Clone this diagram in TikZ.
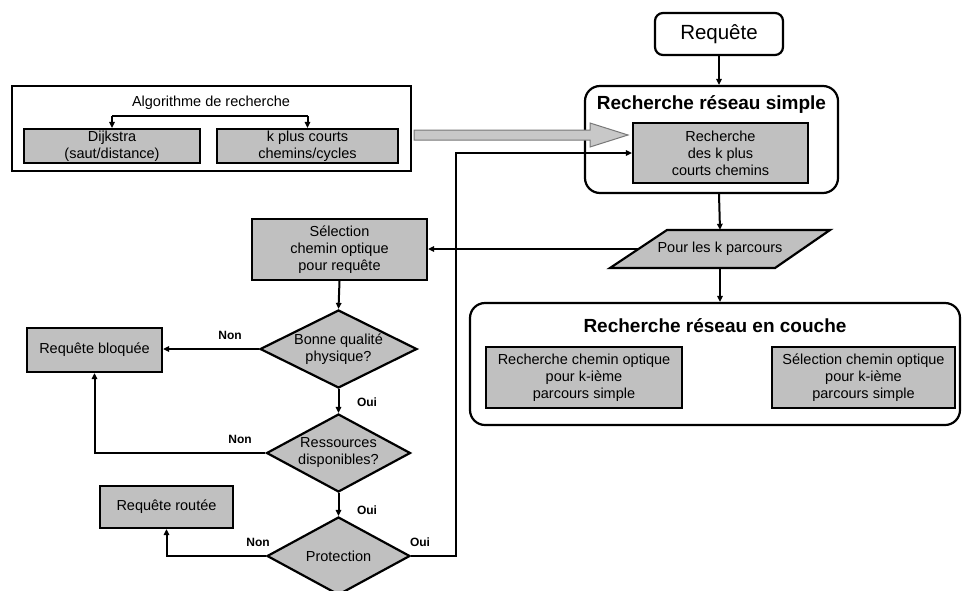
\documentclass[tikz,border=0pt]{standalone}
\usepackage{fontspec}
\setmainfont{Liberation Sans}
\usetikzlibrary{shapes.geometric,arrows.meta,calc}
\definecolor{boxgray}{RGB}{192,192,192}
\definecolor{arrowgray}{RGB}{200,200,200}
\definecolor{arrowedge}{RGB}{120,120,120}

\begin{document}
\begin{tikzpicture}[x=1pt,y=-1pt,
  txt/.style={font=\fontsize{14.5}{17}\selectfont, align=center},
  graybox/.style={txt, draw, line width=2.2pt, fill=boxgray, inner sep=0pt},
  frame/.style={draw, line width=2.2pt, inner sep=0pt},
  roundframe/.style={frame, rounded corners=15pt},
  decision/.style={txt, diamond, draw, line width=2.2pt, fill=boxgray, inner sep=0pt, aspect=2},
  title/.style={font=\bfseries\fontsize{19}{22}\selectfont},
  answer/.style={font=\bfseries\fontsize{12}{14}\selectfont},
  arr/.style={line width=2pt, -{Triangle[length=6pt,width=5.5pt]}},
  link/.style={line width=2pt},
  bigarrow/.style={fill=arrowgray, draw=arrowedge, line width=1pt, line join=miter},
]
\useasboundingbox (0,0) rectangle (962,590);

% --- search algorithms block ---
\node[frame, minimum width=399pt, minimum height=85pt] (algbox) at (211.5,128.5) {};
\node[txt] (algtitle) at (211,103) {Algorithme de recherche};
\node[graybox, minimum width=176pt, minimum height=34pt] (dij) at (112,146)
  {Dijkstra\\(saut/distance)};
\node[graybox, minimum width=181pt, minimum height=34pt] (kpc) at (307.5,146)
  {k plus courts\\chemins/cycles};
\coordinate (brl) at (112,116);
\coordinate (brr) at (307.5,116);
\draw[link] (brl) -- (brr);
\draw[arr] (brl) -- (dij.north);
\draw[arr] (brr) -- (kpc.north);

% --- request and simple network search ---
\node[txt, draw, line width=2.2pt, rounded corners=8pt, minimum width=128pt, minimum height=42pt,
  font=\fontsize{20.5}{24}\selectfont] (req) at (719,34) {Requête};
\node[roundframe, minimum width=253pt, minimum height=107pt] (simple) at (711.5,139.5) {};
\node[title] (simpletitle) at (711.5,104) {Recherche réseau simple};
\node[graybox, minimum width=175pt, minimum height=60pt] (kpath) at (720.5,153)
  {Recherche\\des k plus\\courts chemins};
\draw[arr] (req.south) -- (req.south |- simple.north);

% wide gray arrow feeding the algorithms into the search
\coordinate (ga) at (414,135);
\coordinate (gb) at (628,135);
\draw[bigarrow] ($(ga)+(0,-5)$) -- ($(gb)+(-38,-5)$) -- ($(gb)+(-38,-12)$) -- (gb)
  -- ($(gb)+(-38,12)$) -- ($(gb)+(-38,5)$) -- ($(ga)+(0,5)$) -- cycle;

% --- loop over the k paths ---
\draw[fill=boxgray, line width=2.2pt, line join=miter] (667,230) -- (830,230) -- (775,268) -- (610,268) -- cycle;
\node[txt, minimum width=100pt, minimum height=38pt, inner sep=0pt] (pk) at (720,249) {Pour les k parcours};
\coordinate (pkw) at (638.5,249);
\draw[arr] (req.south |- simple.south) -- (pk.north);

% --- layered network search ---
\node[roundframe, minimum width=490pt, minimum height=122pt] (layer) at (715,364) {};
\node[title] (layertitle) at (715,326) {Recherche réseau en couche};
\node[graybox, minimum width=196pt, minimum height=61pt] (rlk) at (584,377.5)
  {Recherche chemin optique\\pour k-ième\\parcours simple};
\node[graybox, minimum width=183pt, minimum height=61pt] (slk) at (863.5,377.5)
  {Sélection chemin optique\\pour k-ième\\parcours simple};
\draw[arr] (pk.south) -- (pk.south |- layer.north);

% --- decision chain ---
\node[graybox, minimum width=175pt, minimum height=61pt] (sel) at (339.5,249.5)
  {Sélection\\chemin optique\\pour requête};
\draw[arr] (pkw) -- (sel.east |- pkw);

\node[decision, minimum width=157pt, minimum height=78pt] (bq) at (338.5,349)
  {Bonne qualité\\physique?};
\node[graybox, minimum width=135pt, minimum height=44pt] (bloq) at (94.5,350)
  {Requête bloquée};
\node[decision, minimum width=144pt, minimum height=78pt] (rd) at (338.5,453)
  {Ressources\\disponibles?};
\node[decision, minimum width=143pt, minimum height=78pt] (prot) at (338.5,556)
  {Protection};
\node[graybox, minimum width=133pt, minimum height=42pt] (routee) at (166.5,507)
  {Requête routée};

\draw[arr] (sel.south) -- (bq.north);
\draw[arr] (bq.west) -- (bq.west -| bloq.east);
\draw[arr] (bq.south) -- (rd.north);
\draw[arr] (rd.west) -| (bloq.south);
\draw[arr] (rd.south) -- (prot.north);
\draw[arr] (prot.west) -| (routee.south);
\coordinate (fb) at (456,556);
\draw[arr] (prot.east) -- (fb) |- (kpath.west);

% branch labels
\node[answer] (n1) at (230,335) {Non};
\node[answer] (o1) at (367,402) {Oui};
\node[answer] (n2) at (240,439) {Non};
\node[answer] (o2) at (367,510) {Oui};
\node[answer] (n3) at (258,542) {Non};
\node[answer] (o3) at (420,542) {Oui};
\end{tikzpicture}
\end{document}
